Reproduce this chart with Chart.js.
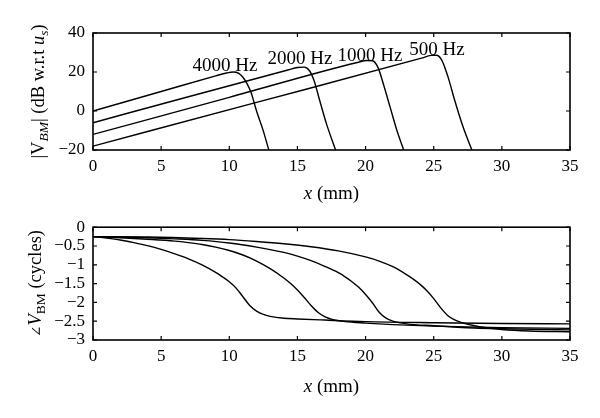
<!DOCTYPE html>
<html><head><meta charset="utf-8">
<script src="https://cdn.jsdelivr.net/npm/chart.js@4"></script>
<style>
html,body{margin:0;padding:0;background:#fff;}
#wrap{width:600px;height:418px;position:relative;background:#fff;}
.c{position:absolute;left:0;width:600px;height:209px;}
</style></head><body>
<div id="wrap">
<div class="c" style="top:0"><canvas id="c1" width="600" height="209"></canvas></div>
<div class="c" style="top:209px"><canvas id="c2" width="600" height="209"></canvas></div>
</div>
<script>
// ---- data (x in mm) ----
const freqNames = ["4000 Hz", "2000 Hz", "1000 Hz", "500 Hz"];
const xTicks = [0, 5, 10, 15, 20, 25, 30, 35];
const magTicks = [-20, 0, 20, 40];
const phaseTicks = [-3, -2.5, -2, -1.5, -1, -0.5, 0];

// |V_BM| (dB)
const mag4000X = [0, 5, 9, 9.8, 10.3, 10.7, 11.0, 11.3, 11.6, 12.0, 12.5, 12.9];
const mag4000Y = [0, 10, 18, 19.5, 20, 19.3, 17.3, 14, 9.5, 0, -10.3, -20];
const mag2000X = [0, 7, 14.3, 15.0, 15.5, 15.9, 16.2, 16.65, 17.15, 17.8];
const mag2000Y = [-6, 7.3, 21, 22.3, 22.5, 20.5, 16, 5, -7, -20];
const mag1000X = [0, 10, 19.4, 20.1, 20.5, 20.9, 21.3, 21.8, 22.3, 22.8];
const mag1000Y = [-12, 7, 24.9, 25.9, 25.8, 22.5, 14, 2, -10, -20];
const mag500X = [0, 12, 24.1, 24.8, 25.2, 25.6, 26.07, 26.56, 27.17, 27.8];
const mag500Y = [-18, 4.4, 27.1, 28.5, 28.6, 26, 17, 5, -8.5, -20];

// angle V_BM (cycles)
const ph4000X = [0,1,2,3,4,5,6,7,8,9,9.5,10,10.5,11,11.5,12,12.5,13,14,15,17,20,25,30,35];
const ph4000Y = [-0.25,-0.29,-0.34,-0.41,-0.49,-0.59,-0.71,-0.84,-1.0,-1.2,-1.32,-1.45,-1.62,-1.85,-2.08,-2.23,-2.32,-2.37,-2.42,-2.44,-2.47,-2.51,-2.54,-2.56,-2.57];
const ph2000X = [0,2,4,6,7,8,9,10,11,12,13,14,14.5,15,15.5,16,16.5,17,17.6,18.5,20,22,25,30,35];
const ph2000Y = [-0.25,-0.28,-0.32,-0.37,-0.41,-0.46,-0.53,-0.62,-0.74,-0.9,-1.1,-1.35,-1.5,-1.67,-1.87,-2.08,-2.26,-2.38,-2.46,-2.51,-2.55,-2.59,-2.63,-2.67,-2.69];
const ph1000X = [0,2,4,6,8,10,12,14,15,16,17,18,18.5,19,19.5,20,20.5,21,21.5,22,23,25,28,30,35];
const ph1000Y = [-0.25,-0.26,-0.28,-0.31,-0.35,-0.42,-0.53,-0.67,-0.77,-0.89,-1.04,-1.21,-1.32,-1.45,-1.6,-1.79,-2.01,-2.26,-2.42,-2.5,-2.57,-2.62,-2.68,-2.7,-2.73];
const ph500X = [0,4,8,10,12,14,16,18,20,21,22,23,23.5,24,24.5,25,25.5,26,26.5,27,28,29,30,32,35];
const ph500Y = [-0.25,-0.26,-0.3,-0.33,-0.38,-0.44,-0.52,-0.63,-0.79,-0.9,-1.05,-1.26,-1.38,-1.52,-1.69,-1.9,-2.14,-2.34,-2.46,-2.53,-2.62,-2.68,-2.72,-2.76,-2.78];

// label anchors (data coords: x centre, y baseline)
const labelX = [9.68, 15.19, 20.32, 25.24];
const labelY = [20.5, 24.0, 25.6, 28.9];

// ---- rendering ----
const SERIF = '"Liberation Serif", "Times New Roman", serif';
Chart.defaults.font.family = SERIF;
Chart.defaults.color = '#000';
const pts = (xs, ys) => xs.map((x, i) => ({x, y: ys[i]}));
const fmt = v => (Math.round(v * 10) / 10).toString().replace('-', '\u2212');

function drawRich(ctx, segs, cx, cy, rot) {
  ctx.save();
  ctx.translate(cx, cy);
  ctx.rotate(rot);
  let w = 0;
  segs.forEach(s => { ctx.font = s.f; s.w = ctx.measureText(s.t).width; w += s.w; });
  let xx = -w / 2;
  ctx.textBaseline = 'alphabetic';
  ctx.textAlign = 'left';
  ctx.fillStyle = '#000';
  segs.forEach(s => { ctx.font = s.f; ctx.fillText(s.t, xx, s.dy || 0); xx += s.w; });
  ctx.restore();
}

const R = (sz) => sz + 'px ' + SERIF;
const I = (sz) => 'italic ' + sz + 'px ' + SERIF;

const framePlugin = {
  id: 'frame',
  afterDraw(chart) {
    const o = chart.options.plugins.frame;
    const {ctx, chartArea: a, scales: {x, y}} = chart;
    ctx.save();
    ctx.strokeStyle = '#000';
    ctx.lineWidth = 1.6;
    ctx.strokeRect(a.left, a.top, a.right - a.left, a.bottom - a.top);
    ctx.lineWidth = 1.2;
    const L = 4;
    ctx.beginPath();
    x.ticks.forEach(t => {
      const p = x.getPixelForValue(t.value);
      ctx.moveTo(p, a.bottom); ctx.lineTo(p, a.bottom - L);
      ctx.moveTo(p, a.top); ctx.lineTo(p, a.top + L);
    });
    y.ticks.forEach(t => {
      const p = y.getPixelForValue(t.value);
      ctx.moveTo(a.left, p); ctx.lineTo(a.left + L, p);
      ctx.moveTo(a.right, p); ctx.lineTo(a.right - L, p);
    });
    ctx.stroke();
    // curve labels
    if (o.labels) {
      ctx.font = R(19);
      ctx.fillStyle = '#000';
      ctx.textAlign = 'center';
      ctx.textBaseline = 'alphabetic';
      o.labels.names.forEach((n, i) => {
        ctx.fillText(n, x.getPixelForValue(o.labels.xs[i]), y.getPixelForValue(o.labels.ys[i]));
      });
    }
    ctx.restore();
    // axis titles
    const cxm = (a.left + a.right) / 2;
    drawRich(ctx, [{t: 'x', f: I(19)}, {t: ' (mm)', f: R(19)}], cxm, a.bottom + o.xTitleOff, 0);
    drawRich(ctx, o.ySegs, a.left - o.yTitleOff, (a.top + a.bottom) / 2, -Math.PI / 2);
  }
};

function makeOptions(cfg) {
  return {
    responsive: false,
    animation: false,
    layout: {padding: {left: 0, right: 30, top: cfg.top, bottom: 0}},
    plugins: {
      legend: {display: false},
      tooltip: {enabled: false},
      frame: cfg.frame
    },
    elements: {
      point: {radius: 0},
      line: {borderWidth: 1.4, borderColor: '#000', cubicInterpolationMode: 'monotone', fill: false}
    },
    scales: {
      x: {
        type: 'linear', min: 0, max: 35,
        afterFit: s => { s.height = cfg.xh; },
        afterBuildTicks: s => { s.ticks = xTicks.map(v => ({value: v})); },
        grid: {display: false, drawTicks: false},
        border: {display: false},
        ticks: {padding: 6, color: '#000', font: {family: SERIF, size: 17}, maxRotation: 0, autoSkip: false, callback: v => fmt(v)}
      },
      y: {
        type: 'linear', min: cfg.ymin, max: cfg.ymax,
        afterFit: s => { s.width = 93; },
        afterBuildTicks: s => { s.ticks = cfg.yt.map(v => ({value: v})); },
        grid: {display: false, drawTicks: false},
        border: {display: false},
        ticks: {padding: 8, color: '#000', font: {family: SERIF, size: 17}, autoSkip: false, callback: v => fmt(v)}
      }
    }
  };
}

const ds = (arr) => arr.map(d => ({data: d, borderColor: '#000', borderWidth: 1.4, pointRadius: 0}));

new Chart(document.getElementById('c1'), {
  type: 'line',
  data: {datasets: ds([pts(mag4000X, mag4000Y), pts(mag2000X, mag2000Y), pts(mag1000X, mag1000Y), pts(mag500X, mag500Y)])},
  options: makeOptions({
    top: 33, xh: 59, ymin: -20, ymax: 40, yt: magTicks,
    frame: {
      labels: {names: freqNames, xs: labelX, ys: labelY},
      xTitleOff: 49, yTitleOff: 49,
      ySegs: [
        {t: '|V', f: R(18.5)},
        {t: 'BM', f: I(13.5), dy: 4},
        {t: '| (dB w.r.t ', f: R(18.5)},
        {t: 'u', f: I(18.5)},
        {t: 's', f: I(13.5), dy: 4},
        {t: ')', f: R(18.5)}
      ]
    }
  }),
  plugins: [framePlugin]
});

new Chart(document.getElementById('c2'), {
  type: 'line',
  data: {datasets: ds([pts(ph4000X, ph4000Y), pts(ph2000X, ph2000Y), pts(ph1000X, ph1000Y), pts(ph500X, ph500Y)])},
  options: makeOptions({
    top: 15, xh: 78, ymin: -3, ymax: 0, yt: phaseTicks,
    frame: {
      labels: null,
      xTitleOff: 52, yTitleOff: 52,
      ySegs: [
        {t: '\u2220', f: '14px "DejaVu Serif", serif'},
        {t: 'V', f: I(18.5)},
        {t: 'BM', f: R(13.5), dy: 4},
        {t: ' (cycles)', f: R(18.5)}
      ]
    }
  }),
  plugins: [framePlugin]
});
</script>
</body></html>
